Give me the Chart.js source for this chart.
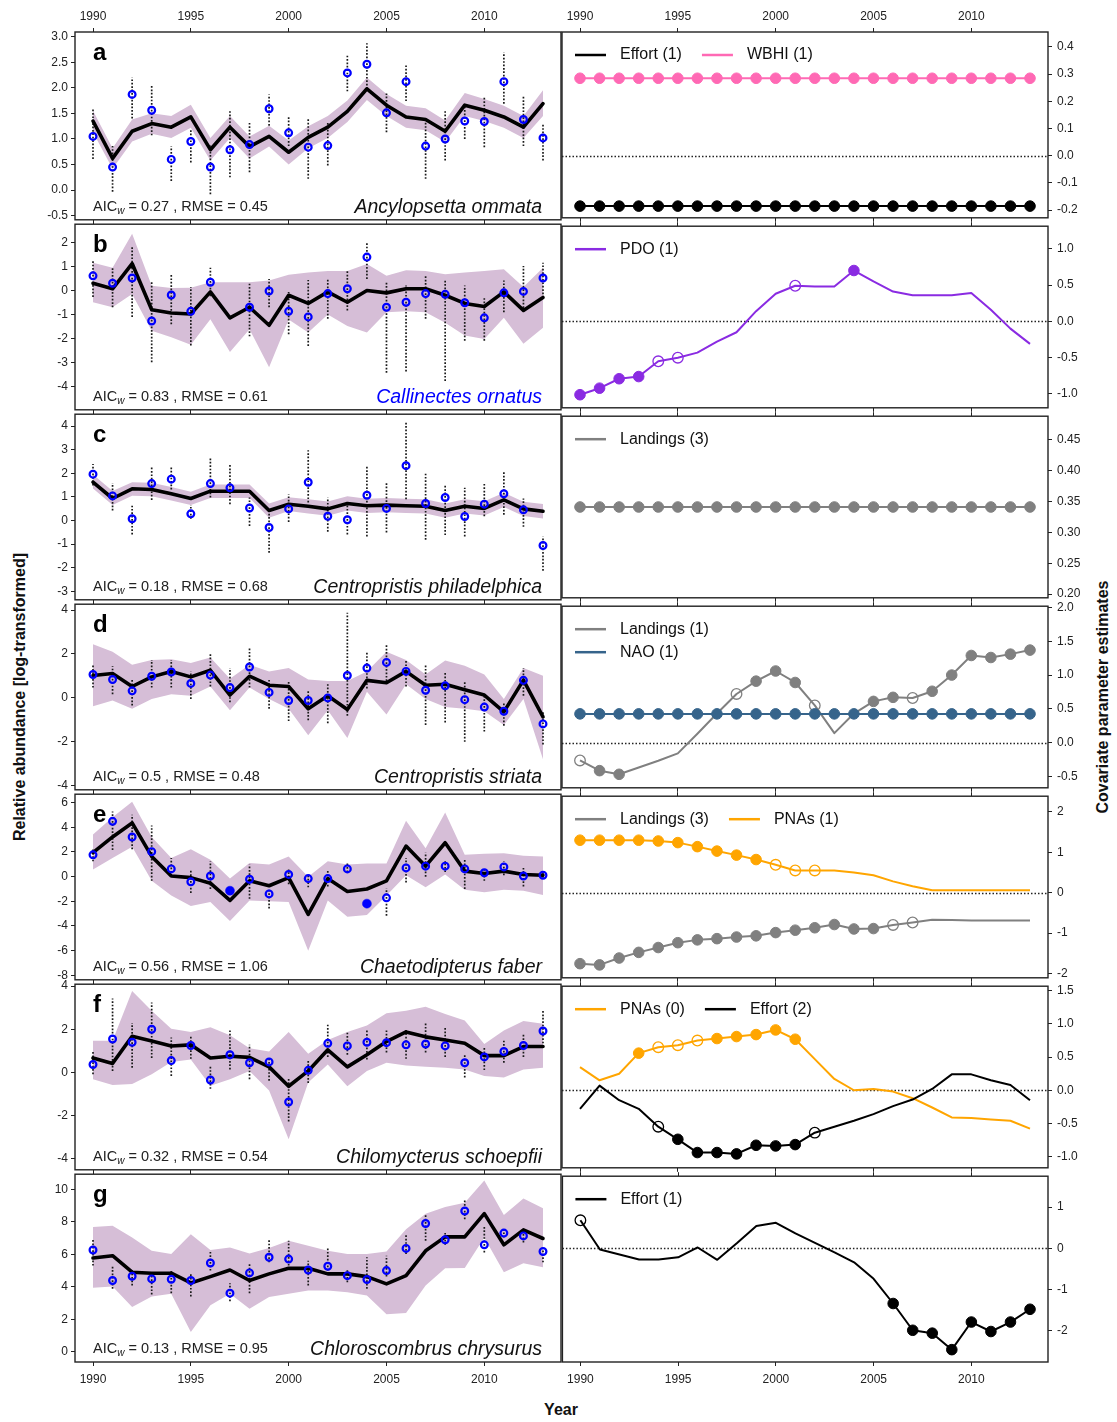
<!DOCTYPE html>
<html>
<head>
<meta charset="utf-8">
<title>Species abundance and covariate effects</title>
<script src="https://cdn.jsdelivr.net/npm/chart.js@4.4.1/dist/chart.umd.min.js"></script>
<style>
  html, body { margin: 0; padding: 0; background: #fff; }
  #fig { position: relative; width: 1117px; height: 1422px; overflow: hidden; background: #fff;
         font-family: "Liberation Sans", Arial, sans-serif; }
  #fig canvas { position: absolute; }
  .lab { position: absolute; font-weight: bold; font-size: 16px; color: #111; white-space: nowrap;
         transform: translate(-50%, -50%); }
  .rot { transform: translate(-50%, -50%) rotate(-90deg); }
</style>
</head>
<body>
<div id="fig">
  <div class="lab rot" style="left:20px; top:697px;">Relative abundance [log-transformed]</div>
  <div class="lab rot" style="left:1103px; top:697px;">Covariate parameter estimates</div>
  <div class="lab" style="left:561px; top:1410px;">Year</div>
</div>
<script>
// ---------------- data ----------------
const years = [1990,1991,1992,1993,1994,1995,1996,1997,1998,1999,2000,2001,2002,2003,2004,2005,2006,2007,2008,2009,2010,2011,2012,2013];
const yearTicks = [1990, 1995, 2000, 2005, 2010];

const speciesNames = ['Ancylopsetta ommata','Callinectes ornatus','Centropristis philadelphica','Centropristis striata','Chaetodipterus faber','Chilomycterus schoepfii','Chloroscombrus chrysurus'];
const panelLetters = ['a','b','c','d','e','f','g'];
const aicWeights = [0.27, 0.83, 0.18, 0.5, 0.56, 0.32, 0.13];
const rmseValues = [0.45, 0.61, 0.68, 0.48, 1.06, 0.54, 0.95];

// a: Ancylopsetta ommata
const aFit   = [1.35,0.62,1.15,1.30,1.23,1.43,0.79,1.23,0.85,1.05,0.74,1.03,1.23,1.54,1.98,1.66,1.43,1.38,1.15,1.66,1.56,1.43,1.23,1.69];
const aUpper = [1.55,0.82,1.38,1.50,1.45,1.67,1.02,1.45,1.05,1.26,0.97,1.25,1.45,1.75,2.20,1.88,1.65,1.60,1.36,1.90,1.78,1.65,1.45,1.95];
const aLower = [1.13,0.42,0.95,1.10,1.02,1.22,0.58,1.02,0.62,0.85,0.50,0.82,1.02,1.33,1.76,1.45,1.22,1.17,0.94,1.45,1.35,1.22,1.02,1.45];
const aObs   = [1.05,0.45,1.87,1.56,0.60,0.95,0.45,0.79,0.89,1.59,1.12,0.84,0.87,2.29,2.46,1.51,2.12,0.86,1.00,1.35,1.34,2.12,1.38,1.02];
const aErrHi = [1.59,0.86,2.20,2.05,0.85,1.20,0.87,1.54,1.34,1.87,1.45,1.41,1.33,2.63,2.87,1.89,2.44,1.32,1.54,1.66,1.82,2.69,1.83,1.28];
const aErrLo = [0.61,-0.03,1.40,1.07,0.18,0.54,-0.08,0.25,0.35,1.26,0.86,0.22,0.48,1.93,1.98,1.13,1.74,0.22,0.58,1.00,0.84,1.69,0.86,0.58];
const aTicks = [-0.5,0,0.5,1,1.5,2,2.5,3];

// b: Callinectes ornatus
const bFit   = [0.30,0.07,1.12,-0.80,-0.94,-0.98,-0.06,-1.14,-0.70,-1.45,-0.20,-0.54,-0.06,-0.49,0.00,-0.10,0.07,0.07,-0.20,-0.54,-0.67,-0.06,-0.83,-0.29];
const bUpper = [1.15,0.95,2.36,0.20,0.10,0.11,0.34,0.34,0.34,0.41,0.65,0.75,0.81,0.81,1.10,0.61,0.84,0.81,0.68,0.75,0.81,0.88,0.14,0.95];
const bLower = [-0.49,-0.70,-0.15,-1.68,-1.95,-2.26,-1.20,-2.56,-1.61,-3.20,-1.21,-1.75,-1.00,-1.48,-1.75,-0.91,-0.87,-0.91,-1.34,-1.88,-2.02,-1.14,-2.22,-1.55];
const bObs   = [0.61,0.30,0.52,-1.27,-0.19,-0.87,0.34,null,-0.70,-0.02,-0.87,-1.10,-0.13,0.07,1.39,-0.70,-0.49,-0.13,-0.16,-0.51,-1.14,-0.10,-0.04,0.52];
const bErrHi = [1.22,0.95,1.86,0.38,0.65,0.14,0.95,null,0.34,0.48,-0.06,0.44,0.48,0.81,2.03,0.38,0.21,0.65,0.48,0.21,-0.29,0.41,1.02,1.15];
const bErrLo = [-0.27,-0.70,-1.10,-2.99,-1.41,-2.29,-0.24,null,-1.91,-0.70,-1.82,-2.31,-1.18,-0.83,0.48,-3.43,-3.37,-1.18,-3.77,-2.09,-2.09,-0.91,-0.87,-0.16];
const bTicks = [-4,-3,-2,-1,0,1,2];

// c: Centropristis philadelphica
const cFit   = [1.62,0.93,1.34,1.31,1.13,0.93,1.24,1.24,1.24,0.42,0.69,0.60,0.49,0.72,0.62,0.65,0.62,0.60,0.42,0.60,0.51,0.87,0.49,0.39];
const cUpper = [1.95,1.25,1.62,1.60,1.42,1.22,1.52,1.52,1.52,0.72,0.98,0.90,0.80,1.02,0.92,0.95,0.92,0.90,0.72,0.90,0.81,1.17,0.79,0.70];
const cLower = [1.35,0.65,1.05,1.02,0.85,0.65,0.95,0.95,0.95,0.12,0.40,0.30,0.20,0.42,0.32,0.35,0.32,0.30,0.12,0.30,0.21,0.57,0.19,0.08];
const cObs   = [1.96,1.04,0.07,1.56,1.75,0.28,1.56,1.38,0.53,-0.30,0.49,1.62,0.18,0.03,1.07,0.51,2.32,0.72,0.97,0.17,0.69,1.13,0.45,-1.06];
const cErrHi = [2.39,1.59,0.62,2.28,2.31,0.65,2.69,2.39,0.97,0.28,1.11,2.97,0.97,0.83,2.35,1.59,4.14,1.98,1.48,1.38,1.62,2.10,0.93,-0.68];
const cErrLo = [1.48,0.42,-0.59,0.87,1.31,0.07,0.97,0.69,-0.23,-1.37,-0.06,0.76,-0.48,-0.59,-0.68,-0.51,0.90,-0.82,-0.62,-0.68,0.18,0.24,-0.27,-2.13];
const cTicks = [-3,-2,-1,0,1,2,3,4];

// d: Centropristis striata
const dFit   = [1.01,1.10,0.51,0.95,1.20,0.95,1.25,0.12,0.98,0.57,0.51,-0.51,0.09,-0.54,0.79,0.68,1.20,0.57,0.61,0.36,0.12,-0.65,0.80,-0.88];
const dUpper = [2.44,2.10,1.50,1.72,1.75,1.58,1.84,0.86,1.50,1.20,1.35,0.83,0.76,0.76,1.20,2.10,1.72,1.06,1.70,1.46,1.06,-0.06,1.35,1.00];
const dLower = [-0.39,-0.13,-0.51,-0.06,0.16,0.09,0.51,-0.58,0.46,-0.06,-0.51,-1.72,-0.58,-1.84,0.27,-0.77,0.61,-0.06,-0.43,-0.51,-0.62,-1.25,-0.06,-2.81];
const dObs   = [1.06,0.83,0.31,0.98,1.17,0.65,1.03,0.46,1.40,0.24,-0.13,-0.13,-0.01,1.01,1.35,1.61,1.20,0.34,0.54,-0.09,-0.43,-0.62,0.79,-1.20];
const dErrHi = [1.50,1.43,0.83,1.72,1.72,1.20,2.05,1.35,2.25,0.83,0.71,0.31,0.61,3.88,2.10,2.47,1.72,1.50,1.16,0.76,0.09,-0.24,1.35,-0.62];
const dErrLo = [0.46,0.16,-0.36,0.46,0.46,-0.06,0.51,-0.21,0.46,-0.51,-1.07,-1.03,-1.17,-0.83,0.42,0.76,0.51,-1.25,-1.13,-2.02,-1.55,-1.28,0.09,-2.14];
const dTicks = [-4,-2,0,2,4];

// e: Chaetodipterus faber
const eFit   = [1.95,3.22,4.36,1.64,0.05,-0.08,-0.53,-1.93,-0.34,-0.74,-0.08,-3.06,-0.16,-1.21,-1.00,-0.34,2.48,0.85,2.75,0.45,0.26,0.45,0.18,0.11];
const eUpper = [3.41,4.81,6.08,3.22,1.51,2.22,1.37,-0.16,1.11,0.98,1.64,0.00,1.24,0.98,1.06,1.06,4.54,2.30,5.20,1.77,1.85,1.90,1.69,1.64];
const eLower = [0.58,1.51,2.43,-0.34,-1.53,-2.38,-2.06,-3.59,-1.93,-2.00,-2.06,-6.02,-1.93,-3.25,-3.12,-1.53,0.11,-0.87,0.18,-1.06,-1.27,-1.06,-1.14,-1.48];
const eObs   = [1.77,4.49,3.22,2.03,0.63,-0.42,0.05,-1.14,-0.21,-1.40,0.18,-0.16,-0.16,0.63,-2.19,-1.72,0.71,0.85,0.85,0.63,0.32,0.79,0.05,0.11];
const eObsFilled = [0,0,0,0,0,0,0,1,0,0,0,0,0,0,1,0,0,0,0,0,0,0,0,0];
const eErrHi = [2.30,5.28,5.02,4.15,1.51,0.63,1.24,null,0.98,-1.00,0.58,0.18,0.53,1.06,null,-0.95,1.51,1.95,1.24,1.37,0.58,1.24,0.71,0.37];
const eErrLo = [1.24,2.17,2.22,-0.34,0.05,-1.32,-1.00,null,-1.80,-2.59,-0.61,-0.87,-0.79,0.37,null,-3.17,-0.48,0.00,0.37,-1.00,-0.34,0.11,-0.79,-0.08];
const eTicks = [-8,-6,-4,-2,0,2,4,6];

// f: Chilomycterus schoepfii
const fFit   = [0.67,0.42,1.68,1.46,1.23,1.28,0.67,0.75,0.70,0.26,-0.64,0.07,1.05,0.26,0.82,1.43,1.88,1.65,1.50,1.35,0.78,0.78,1.20,1.20];
const fUpper = [1.47,1.47,3.77,2.86,2.03,1.88,2.10,1.73,1.12,0.97,1.88,0.87,1.50,1.88,2.18,2.74,2.86,3.04,2.71,2.41,1.32,1.95,2.38,2.26];
const fLower = [-0.31,-0.58,-0.53,-0.08,0.48,0.60,-0.61,-0.31,0.07,-0.84,-3.10,-0.46,0.37,-0.64,0.07,0.45,0.32,0.26,0.22,0.14,-0.16,-0.23,0.14,0.22];
const fObs   = [0.37,1.55,1.40,2.00,0.55,1.25,-0.35,0.82,0.45,0.49,-1.37,0.10,1.35,1.23,1.40,1.38,1.28,1.32,1.23,0.45,0.72,0.97,1.25,1.92];
const fErrHi = [1.00,3.43,2.29,3.24,1.62,1.68,0.26,1.95,1.28,0.72,-0.23,0.60,2.29,1.92,1.98,1.95,1.98,2.29,2.10,0.82,1.20,1.50,1.80,2.89];
const fErrLo = [-0.08,0.07,0.22,0.67,-0.16,0.63,-0.76,0.14,-0.31,-0.38,-2.27,-0.49,0.72,0.82,0.60,0.93,0.63,0.93,0.72,-0.23,0.11,0.45,0.72,1.35];
const fTicks = [-4,-2,0,2,4];

// g: Chloroscombrus chrysurus
const gFit   = [5.78,5.92,4.90,4.84,4.84,4.24,4.63,5.04,4.39,4.80,5.14,5.14,4.80,4.80,4.63,4.18,4.69,6.22,7.08,7.08,8.51,6.59,7.51,6.98];
const gUpper = [7.69,7.76,7.04,6.22,6.02,7.24,6.27,6.43,6.06,6.39,6.84,6.53,6.22,6.02,6.02,6.18,7.55,8.51,8.92,9.18,10.55,8.43,9.45,8.84];
const gLower = [3.94,4.02,2.76,3.41,3.57,1.22,2.86,3.57,2.65,3.37,3.57,3.78,3.78,3.67,3.47,2.31,2.39,4.08,5.14,5.16,7.04,4.90,5.45,5.20];
const gObs   = [6.27,4.39,4.65,4.49,4.47,4.39,5.47,3.61,4.86,5.82,5.71,5.04,5.27,4.69,4.45,5.00,6.37,7.90,6.90,8.67,6.59,7.31,7.14,6.18];
const gErrHi = [6.94,5.31,5.10,4.90,5.04,4.84,6.22,4.22,5.41,6.94,6.84,5.61,6.43,5.04,5.82,5.92,7.24,8.43,7.35,9.39,7.76,7.55,7.49,6.39];
const gErrLo = [5.31,3.88,4.08,3.53,3.61,3.41,5.00,3.12,3.61,5.51,5.31,4.08,5.00,4.29,3.88,4.63,6.02,6.84,6.59,8.16,6.12,7.04,6.73,5.51];
const gTicks = [0,2,4,6,8,10];

// Covariate effects (significance: 2 = significant, 1 = marginal, 0 = not marked)
const aEffort    = [-0.185,-0.185,-0.185,-0.185,-0.185,-0.185,-0.185,-0.185,-0.185,-0.185,-0.185,-0.185,-0.185,-0.185,-0.185,-0.185,-0.185,-0.185,-0.185,-0.185,-0.185,-0.185,-0.185,-0.185];
const aEffortSig = [2,2,2,2,2,2,2,2,2,2,2,2,2,2,2,2,2,2,2,2,2,2,2,2];
const aWBHI      = [0.285,0.285,0.285,0.285,0.285,0.285,0.285,0.285,0.285,0.285,0.285,0.285,0.285,0.285,0.285,0.285,0.285,0.285,0.285,0.285,0.285,0.285,0.285,0.285];
const aWBHISig   = [2,2,2,2,2,2,2,2,2,2,2,2,2,2,2,2,2,2,2,2,2,2,2,2];
const aCovTicks  = [-0.2,-0.1,0,0.1,0.2,0.3,0.4];

const bPDO       = [-1.01,-0.92,-0.79,-0.76,-0.55,-0.50,-0.43,-0.28,-0.15,0.14,0.38,0.49,0.48,0.48,0.70,0.55,0.41,0.36,0.36,0.36,0.39,0.16,-0.10,-0.31];
const bPDOSig    = [2,2,2,2,1,1,0,0,0,0,0,1,0,0,2,0,0,0,0,0,0,0,0,0];
const bCovTicks  = [-1,-0.5,0,0.5,1];

const cLandings    = [0.341,0.341,0.341,0.341,0.341,0.341,0.341,0.341,0.341,0.341,0.341,0.341,0.341,0.341,0.341,0.341,0.341,0.341,0.341,0.341,0.341,0.341,0.341,0.341];
const cLandingsSig = [2,2,2,2,2,2,2,2,2,2,2,2,2,2,2,2,2,2,2,2,2,2,2,2];
const cCovTicks    = [0.2,0.25,0.3,0.35,0.4,0.45];

const dLandings    = [-0.265,-0.416,-0.47,-0.37,-0.27,-0.16,0.13,0.43,0.72,0.91,1.06,0.89,0.55,0.14,0.43,0.61,0.67,0.66,0.76,1.00,1.29,1.26,1.31,1.37];
const dLandingsSig = [1,2,2,0,0,0,0,0,1,2,2,2,1,0,0,2,2,1,2,2,2,2,2,2];
const dNAO         = [0.425,0.425,0.425,0.425,0.425,0.425,0.425,0.425,0.425,0.425,0.425,0.425,0.425,0.425,0.425,0.425,0.425,0.425,0.425,0.425,0.425,0.425,0.425,0.425];
const dNAOSig      = [2,2,2,2,2,2,2,2,2,2,2,2,2,2,2,2,2,2,2,2,2,2,2,2];
const dCovTicks    = [-0.5,0,0.5,1,1.5,2];

const eLandings    = [-1.76,-1.79,-1.62,-1.48,-1.36,-1.24,-1.17,-1.14,-1.10,-1.07,-0.99,-0.93,-0.87,-0.79,-0.90,-0.89,-0.80,-0.74,-0.67,-0.68,-0.69,-0.69,-0.69,-0.69];
const eLandingsSig = [2,2,2,2,2,2,2,2,2,2,2,2,2,2,2,2,1,1,0,0,0,0,0,0];
const ePNAs        = [1.30,1.30,1.30,1.30,1.28,1.24,1.14,1.03,0.93,0.82,0.69,0.55,0.55,0.55,0.50,0.43,0.28,0.16,0.06,0.06,0.06,0.06,0.06,0.06];
const ePNAsSig     = [2,2,2,2,2,2,2,2,2,2,1,1,1,0,0,0,0,0,0,0,0,0,0,0];
const eCovTicks    = [-2,-1,0,1,2];

const fPNAs        = [0.35,0.15,0.25,0.56,0.65,0.68,0.75,0.78,0.81,0.84,0.91,0.77,0.47,0.17,0.00,0.02,-0.02,-0.12,-0.26,-0.41,-0.42,-0.44,-0.46,-0.58];
const fPNAsSig     = [0,0,0,2,1,1,1,2,2,2,2,2,0,0,0,0,0,0,0,0,0,0,0,0];
const fEffort      = [-0.28,0.07,-0.15,-0.28,-0.55,-0.74,-0.94,-0.94,-0.96,-0.83,-0.84,-0.82,-0.64,-0.55,-0.46,-0.36,-0.24,-0.14,0.02,0.24,0.24,0.15,0.08,-0.15];
const fEffortSig   = [0,0,0,0,1,2,2,2,2,2,2,2,1,0,0,0,0,0,0,0,0,0,0,0];
const fCovTicks    = [-1,-0.5,0,0.5,1,1.5];

const gEffort      = [0.68,-0.03,-0.15,-0.27,-0.27,-0.22,0.02,-0.28,0.12,0.54,0.62,0.36,0.13,-0.10,-0.34,-0.74,-1.34,-1.99,-2.06,-2.46,-1.79,-2.02,-1.79,-1.48];
const gEffortSig   = [1,0,0,0,0,0,0,0,0,0,0,0,0,0,0,0,2,2,2,2,2,2,2,2];
const gCovTicks    = [-2,-1,0,1];

// ---------------- drawing ----------------
const FONT = '"Liberation Sans", Arial, sans-serif';
Chart.defaults.font.family = FONT;
Chart.defaults.font.size = 12;
Chart.defaults.color = '#222';

const PANEL_TOP = 32, PANEL_H = 190, ROWS = 7;
const X_MIN = 1989.08, X_MAX = 2013.92;
const BAND = 'rgb(214,190,215)';
const BLUE = '#0000ff';
const COL = { effort: '#000000', wbhi: '#ff69b4', pdo: '#8a2be2', landings: '#808080', nao: '#36648b', pnas: '#ffa500' };

const fig = document.getElementById('fig');
function addCanvas(left, top, w, h) {
  const c = document.createElement('canvas');
  c.width = w; c.height = h;
  c.style.left = left + 'px'; c.style.top = top + 'px';
  c.style.width = w + 'px'; c.style.height = h + 'px';
  fig.appendChild(c);
  return c;
}
const pts = vals => years.map((x, i) => ({ x, y: vals[i] }));
function errPts(lo, hi) {
  const out = [];
  years.forEach((x, i) => {
    if (lo[i] == null || hi[i] == null) return;
    out.push({ x, y: lo[i] }, { x, y: hi[i] }, { x, y: null });
  });
  return out;
}
const pads = row => ({ t: row === 0 ? 32 : 8, b: row === ROWS - 1 ? 40 : 8 });

function xAxis(pos, show, h, pad) {
  return {
    type: 'linear', position: pos, min: X_MIN, max: X_MAX,
    afterBuildTicks: s => { s.ticks = yearTicks.map(v => ({ value: v })); },
    afterFit: s => { s.height = h; },
    ticks: { display: show, autoSkip: false, maxRotation: 0, padding: pad, color: '#222',
             font: { size: 12 }, callback: v => String(v) },
    grid: { drawOnChartArea: false, drawTicks: true, tickLength: 4, color: '#222', lineWidth: 1 },
    border: { display: false }
  };
}
function yAxis(pos, min, max, ticks, dec, width, pad) {
  return {
    type: 'linear', position: pos, min, max,
    afterBuildTicks: s => { s.ticks = ticks.map(v => ({ value: v })); },
    afterFit: s => { s.width = width; },
    ticks: { autoSkip: false, padding: pad, color: '#222', font: { size: 12 },
             callback: v => Number(v).toFixed(dec) },
    grid: { drawOnChartArea: false, drawTicks: true, tickLength: 4, color: '#222', lineWidth: 1 },
    border: { display: false }
  };
}

const frame = {
  id: 'frame',
  afterDatasetsDraw(chart) {
    const { ctx, chartArea: a } = chart;
    ctx.save();
    ctx.strokeStyle = '#222'; ctx.lineWidth = 1.4;
    ctx.strokeRect(a.left, a.top, a.right - a.left, a.bottom - a.top);
    ctx.restore();
  }
};

const panelText = {
  id: 'panelText',
  afterDatasetsDraw(chart, args, o) {
    const { ctx, chartArea: a } = chart;
    ctx.save();
    ctx.textBaseline = 'alphabetic';
    ctx.fillStyle = '#000';
    ctx.font = `bold 24px ${FONT}`;
    ctx.fillText(o.letter, a.left + 18, a.top + 28);
    let x = a.left + 18; const y = a.bottom - 9;
    ctx.fillStyle = '#222';
    ctx.font = `14.5px ${FONT}`;
    ctx.fillText('AIC', x, y); x += ctx.measureText('AIC').width;
    ctx.font = `italic 10px ${FONT}`;
    ctx.fillText('w', x, y + 3); x += ctx.measureText('w').width;
    ctx.font = `14.5px ${FONT}`;
    ctx.fillText(` = ${o.aic} , RMSE = ${o.rmse}`, x, y);
    ctx.font = `italic 19.5px ${FONT}`;
    ctx.textAlign = 'right';
    ctx.fillStyle = o.nameColor;
    ctx.fillText(o.name, a.right - 19, a.bottom - 7);
    ctx.restore();
  }
};

const zeroLine = {
  id: 'zeroLine',
  beforeDatasetsDraw(chart) {
    const y = chart.scales.y, a = chart.chartArea, ctx = chart.ctx;
    if (0 < y.min || 0 > y.max) return;
    const py = Math.round(y.getPixelForValue(0)) + 0.5;
    ctx.save();
    ctx.setLineDash([1.5, 2]);
    ctx.lineWidth = 1.5; ctx.strokeStyle = '#222';
    ctx.beginPath(); ctx.moveTo(a.left, py); ctx.lineTo(a.right, py); ctx.stroke();
    ctx.restore();
  }
};

const covLegend = {
  id: 'covLegend',
  afterDatasetsDraw(chart, args, o) {
    const { ctx, chartArea: a } = chart;
    ctx.save();
    ctx.font = `16px ${FONT}`;
    ctx.textBaseline = 'middle';
    o.rows.forEach((row, r) => {
      let x = a.left + 13;
      const y = a.top + 23 + r * 23;
      row.forEach(k => {
        const ds = chart.data.datasets[k];
        ctx.strokeStyle = ds.borderColor; ctx.lineWidth = 2.5;
        ctx.beginPath(); ctx.moveTo(x, y); ctx.lineTo(x + 31, y); ctx.stroke();
        ctx.fillStyle = '#111';
        ctx.fillText(ds.label, x + 45, y);
        x += 45 + ctx.measureText(ds.label).width + 20;
      });
    });
    ctx.restore();
  }
};

function abundanceChart(row, p) {
  const pd = pads(row);
  const c = addCanvas(0, PANEL_TOP + row * PANEL_H - pd.t, 562, PANEL_H + pd.t + pd.b);
  const filled = i => p.filled ? p.filled[i] === 1 : false;
  const datasets = [
    { label: 'Observed', data: pts(p.obs), showLine: false,
      pointRadius: p.obs.map((v, i) => filled(i) ? 4.5 : 3.4),
      pointBorderWidth: p.obs.map((v, i) => filled(i) ? 0.5 : 2.2),
      pointBackgroundColor: p.obs.map((v, i) => filled(i) ? BLUE : 'rgba(0,0,0,0)'),
      pointBorderColor: BLUE, order: 0 },
    { label: 'Fitted', data: pts(p.fit), borderColor: '#000', borderWidth: 3.6, pointRadius: 0,
      borderJoinStyle: 'round', borderCapStyle: 'round', order: 1 },
    { label: 'Interval', data: errPts(p.errLo, p.errHi), borderColor: '#1a1a1a', borderWidth: 1.7,
      borderDash: [1.7, 1.7], pointRadius: 0, spanGaps: false, order: 2 },
    { label: 'Upper', data: pts(p.upper), borderColor: 'rgba(0,0,0,0)', borderWidth: 0, pointRadius: 0,
      fill: '+1', backgroundColor: BAND, order: 3 },
    { label: 'Lower', data: pts(p.lower), borderColor: 'rgba(0,0,0,0)', borderWidth: 0, pointRadius: 0,
      fill: false, order: 4 }
  ];
  new Chart(c, {
    type: 'line',
    data: { datasets },
    options: {
      responsive: false, animation: false, devicePixelRatio: 1, events: [],
      layout: { autoPadding: false, padding: { left: 0, right: 1, top: 0, bottom: 0 } },
      elements: { line: { tension: 0 } },
      scales: {
        x: xAxis('bottom', row === ROWS - 1, pd.b, 6),
        xTop: xAxis('top', row === 0, pd.t, 4),
        y: yAxis('left', p.yMin, p.yMax, p.ticks, p.dec, 75, 3)
      },
      plugins: {
        legend: { display: false }, tooltip: { enabled: false },
        panelText: { letter: panelLetters[row], name: speciesNames[row], nameColor: p.nameColor || '#111',
                     aic: aicWeights[row], rmse: rmseValues[row] }
      }
    },
    plugins: [frame, panelText]
  });
}

function covariateChart(row, p) {
  const pd = pads(row);
  const c = addCanvas(561, PANEL_TOP + row * PANEL_H - pd.t, 556, PANEL_H + pd.t + pd.b);
  const n = p.series.length;
  const datasets = p.series.map((s, k) => ({
    label: s.label, data: pts(s.values), borderColor: s.color, borderWidth: 2,
    borderJoinStyle: 'round',
    pointRadius: s.sig.map(v => v ? 5.3 : 0),
    pointBorderWidth: s.sig.map(v => v === 2 ? 1 : 1.3),
    pointBackgroundColor: s.sig.map(v => v === 2 ? s.color : 'rgba(0,0,0,0)'),
    pointBorderColor: s.color,
    order: n - 1 - k
  }));
  new Chart(c, {
    type: 'line',
    data: { datasets },
    options: {
      responsive: false, animation: false, devicePixelRatio: 1, events: [],
      layout: { autoPadding: false, padding: { left: 1, right: 0, top: 0, bottom: 0 } },
      elements: { line: { tension: 0 } },
      scales: {
        x: xAxis('bottom', row === ROWS - 1, pd.b, 6),
        xTop: xAxis('top', row === 0, pd.t, 4),
        y: yAxis('right', p.yMin, p.yMax, p.ticks, p.dec, 69, 5)
      },
      plugins: { legend: { display: false }, tooltip: { enabled: false }, covLegend: { rows: p.rows } }
    },
    plugins: [zeroLine, frame, covLegend]
  });
}

const abundancePanels = [
  { fit: aFit, upper: aUpper, lower: aLower, obs: aObs, errLo: aErrLo, errHi: aErrHi, yMin: -0.58, yMax: 3.09, ticks: aTicks, dec: 1 },
  { fit: bFit, upper: bUpper, lower: bLower, obs: bObs, errLo: bErrLo, errHi: bErrHi, yMin: -4.97, yMax: 2.76, ticks: bTicks, dec: 0, nameColor: '#0000ff' },
  { fit: cFit, upper: cUpper, lower: cLower, obs: cObs, errLo: cErrLo, errHi: cErrHi, yMin: -3.36, yMax: 4.5, ticks: cTicks, dec: 0 },
  { fit: dFit, upper: dUpper, lower: dLower, obs: dObs, errLo: dErrLo, errHi: dErrHi, yMin: -4.21, yMax: 4.27, ticks: dTicks, dec: 0 },
  { fit: eFit, upper: eUpper, lower: eLower, obs: eObs, errLo: eErrLo, errHi: eErrHi, filled: eObsFilled, yMin: -8.37, yMax: 6.69, ticks: eTicks, dec: 0 },
  { fit: fFit, upper: fUpper, lower: fLower, obs: fObs, errLo: fErrLo, errHi: fErrHi, yMin: -4.51, yMax: 4.09, ticks: fTicks, dec: 0 },
  { fit: gFit, upper: gUpper, lower: gLower, obs: gObs, errLo: gErrLo, errHi: gErrHi, yMin: -0.63, yMax: 10.94, ticks: gTicks, dec: 0 }
];

const covariatePanels = [
  { series: [ { label: 'Effort (1)', values: aEffort, sig: aEffortSig, color: COL.effort },
              { label: 'WBHI (1)', values: aWBHI, sig: aWBHISig, color: COL.wbhi } ],
    rows: [[0, 1]], yMin: -0.228, yMax: 0.455, ticks: aCovTicks, dec: 1 },
  { series: [ { label: 'PDO (1)', values: bPDO, sig: bPDOSig, color: COL.pdo } ],
    rows: [[0]], yMin: -1.19, yMax: 1.31, ticks: bCovTicks, dec: 1 },
  { series: [ { label: 'Landings (3)', values: cLandings, sig: cLandingsSig, color: COL.landings } ],
    rows: [[0]], yMin: 0.194, yMax: 0.488, ticks: cCovTicks, dec: 2 },
  { series: [ { label: 'Landings (1)', values: dLandings, sig: dLandingsSig, color: COL.landings },
              { label: 'NAO (1)', values: dNAO, sig: dNAOSig, color: COL.nao } ],
    rows: [[0], [1]], yMin: -0.67, yMax: 2.02, ticks: dCovTicks, dec: 1 },
  { series: [ { label: 'Landings (3)', values: eLandings, sig: eLandingsSig, color: COL.landings },
              { label: 'PNAs (1)', values: ePNAs, sig: ePNAsSig, color: COL.pnas } ],
    rows: [[0, 1]], yMin: -2.11, yMax: 2.39, ticks: eCovTicks, dec: 0 },
  { series: [ { label: 'PNAs (0)', values: fPNAs, sig: fPNAsSig, color: COL.pnas },
              { label: 'Effort (2)', values: fEffort, sig: fEffortSig, color: COL.effort } ],
    rows: [[0, 1]], yMin: -1.17, yMax: 1.57, ticks: fCovTicks, dec: 1 },
  { series: [ { label: 'Effort (1)', values: gEffort, sig: gEffortSig, color: COL.effort } ],
    rows: [[0]], yMin: -2.76, yMax: 1.75, ticks: gCovTicks, dec: 0 }
];

abundancePanels.forEach((p, row) => abundanceChart(row, p));
covariatePanels.forEach((p, row) => covariateChart(row, p));
</script>
</body>
</html>
